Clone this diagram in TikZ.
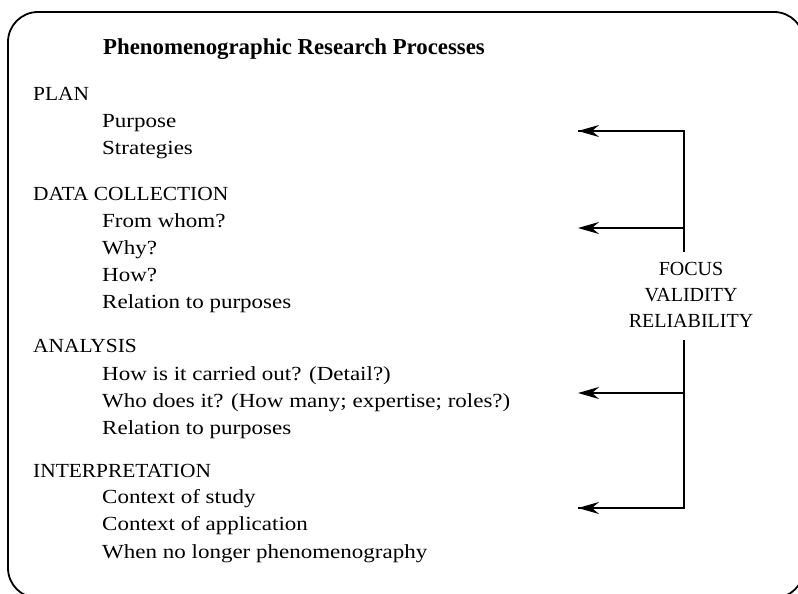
\documentclass[tikz,border=0pt]{standalone}
\usepackage{fontspec}
\setmainfont{Liberation Serif}
\newfontfamily\itemfont[FakeStretch=1.15]{Liberation Serif}
\newfontfamily\headfont[FakeStretch=1.07]{Liberation Serif}
\usetikzlibrary{arrows.meta}
\begin{document}
\begin{tikzpicture}[x=1pt,y=-1pt,
  txt/.style={anchor=base west,inner sep=0pt,font=\itemfont\fontsize{20}{27}\selectfont},
  hdr/.style={anchor=base west,inner sep=0pt,font=\headfont\fontsize{20}{27}\selectfont},
  ttl/.style={anchor=base west,inner sep=0pt,font=\fontsize{22.8}{27}\selectfont\bfseries},
  conn/.style={line width=1.7pt},
  arr/.style={line width=1.7pt,-{Stealth[length=21pt,width=12pt,inset=7pt]}}]
\useasboundingbox (0,0) rectangle (798,594);
\clip (0,0) rectangle (798,594);
\draw[line width=1.8pt,rounded corners=30pt] (8,12) rectangle (804,598);
\node[ttl] (title) at (103,55) {Phenomenographic Research Processes};
\node[hdr] (plan) at (33,100.5) {PLAN};
\node[txt] (p1) at (102,128) {Purpose};
\node[txt] (p2) at (102,154.5) {Strategies};
\node[hdr] (data) at (33,200) {DATA COLLECTION};
\node[txt] (d1) at (102,227) {From whom?};
\node[txt] (d2) at (102,254) {Why?};
\node[txt] (d3) at (102,281) {How?};
\node[txt] (d4) at (102,308) {Relation to purposes};
\node[hdr] (ana) at (33,352) {ANALYSIS};
\node[txt] (a1) at (102,380) {How is it carried out? (Detail?)};
\node[txt] (a2) at (102,407) {Who does it? (How many; expertise; roles?)};
\node[txt] (a3) at (102,434) {Relation to purposes};
\node[hdr] (int) at (33,477) {INTERPRETATION};
\node[txt] (i1) at (102,503.5) {Context of study};
\node[txt] (i2) at (102,530.5) {Context of application};
\node[txt] (i3) at (102,558) {When no longer phenomenography};
\node[anchor=base,inner sep=0pt,align=center,font=\fontsize{20}{26}\selectfont] (fvr) at (691,327) {FOCUS\\VALIDITY\\RELIABILITY};
% spine coordinates
\coordinate (s1) at (684,131);
\coordinate (s2) at (684,228);
\coordinate (s3) at (684,252);
\coordinate (s4) at (684,340);
\coordinate (s5) at (684,393);
\coordinate (s6) at (684,508);
% arrow ends
\coordinate (e1) at (578,131);
\coordinate (e2) at (578,228);
\coordinate (e3) at (578,393);
\coordinate (e4) at (578,508);
\draw[conn,line join=miter] (e1) -- (s1) -- (s3);
\draw[conn] (s4) -- (s6) -- (e4);
\draw[arr] (s1) -- (e1);
\draw[arr] (s2) -- (e2);
\draw[arr] (s5) -- (e3);
\draw[arr] (s6) -- (e4);
\end{tikzpicture}
\end{document}
